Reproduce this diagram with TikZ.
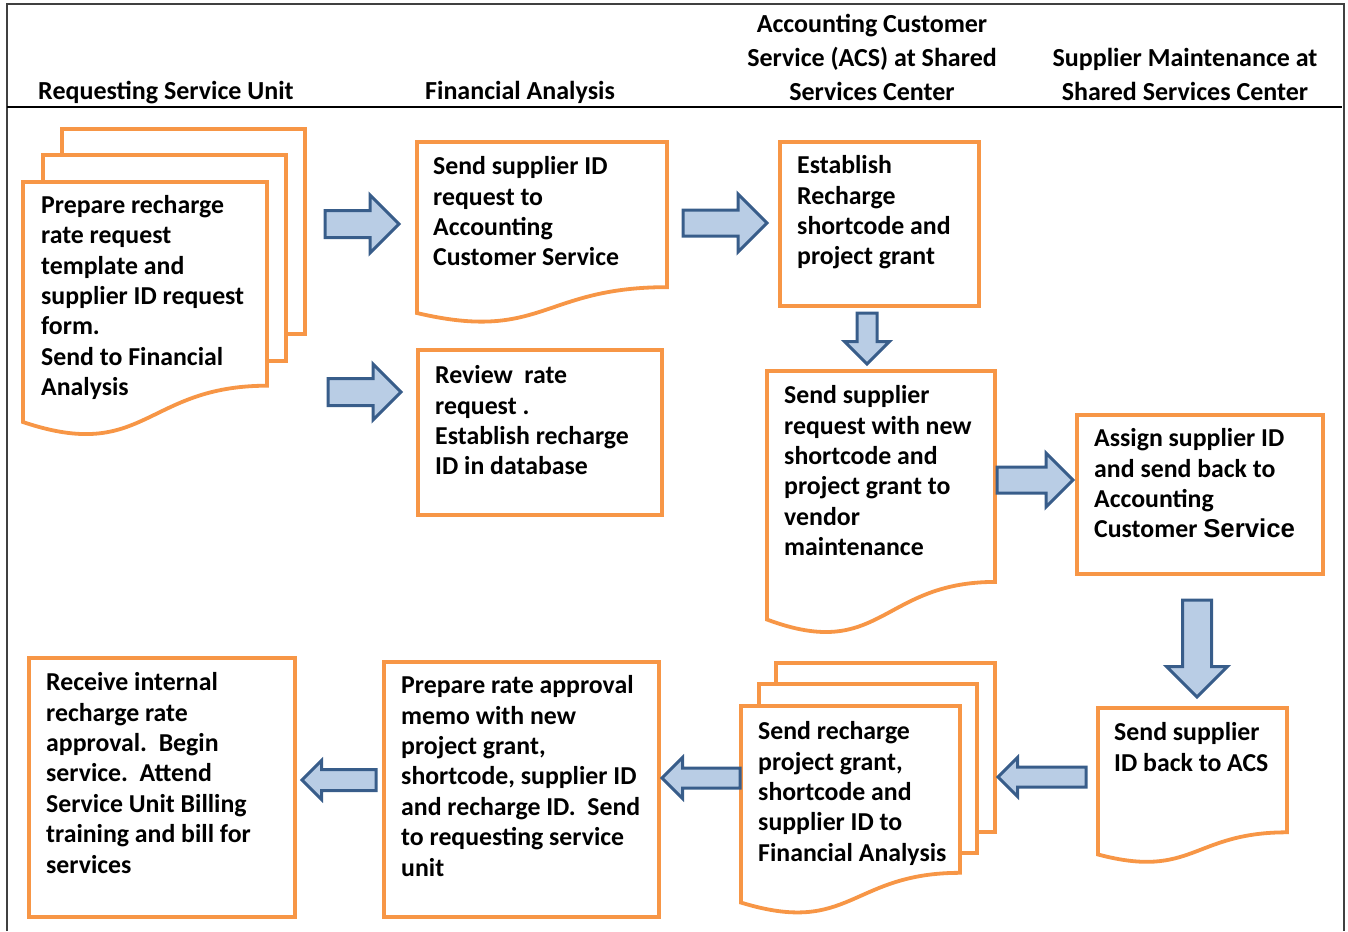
\documentclass[tikz,border=0pt]{standalone}
\usepackage{fontspec}
\setmainfont{Carlito}
\newfontfamily\arialfont{Liberation Sans}
\definecolor{boxorange}{HTML}{F79646}
\definecolor{arrowfill}{HTML}{B9CDE5}
\definecolor{arrowedge}{HTML}{385D8A}
\newcommand{\boxfont}{\fontsize{25.8}{30.4}\selectfont\bfseries}
\newcommand{\headfont}{\fontsize{26}{34}\selectfont\bfseries}
% document page: left, top, right, height
\newcommand{\docpage}[4]{%
  \draw[box] (#1,#2) -- (#3,#2) -- (#3,{#2+0.802*#4})
    .. controls ({(#1+#3)/2},{#2+0.802*#4}) and ({(#1+#3)/2},{#2+1.107*#4}) .. (#1,{#2+0.945*#4}) -- cycle;}
% page behind: left, top, right, cut, right of page in front, top of page in front
\newcommand{\backpage}[6]{%
  \draw[box] (#1,#6) -- (#1,#2) -- (#3,#2) -- (#3,#4) -- (#5,#4);}
% block arrow: tail x, tail y, angle, length, shaft, head
\newcommand{\blockarrow}[6]{%
  \filldraw[flowarrow,shift={(#1,#2)},rotate=#3] (0,{-#5/2}) -- ({#4-#6/2},{-#5/2}) -- ({#4-#6/2},{-#6/2})
    -- (#4,0) -- ({#4-#6/2},{#6/2}) -- ({#4-#6/2},{#5/2}) -- (0,{#5/2}) -- cycle;}
\tikzset{
  box/.style={draw=boxorange,line width=3.8pt,fill=white},
  flowarrow/.style={fill=arrowfill,draw=arrowedge,line width=3pt},
  txt/.style={anchor=north west,align=left,inner sep=0pt,font=\boxfont,yshift=21.28pt},
  head/.style={align=center,inner sep=0pt,font=\headfont}
}
\begin{document}
\begin{tikzpicture}[x=1pt,y=-1pt]
\useasboundingbox (0,0) rectangle (1348,931);

\draw[black!75,line width=2pt] (7,931) -- (7,4) -- (1344,4) -- (1344,931);
\draw[black,line width=2.5pt] (7,107) -- (1342,107);

\node[head,anchor=base] (hdrunit) at (166,100) {Requesting Service Unit};
\node[head,anchor=base] (hdrfin) at (520,100) {Financial Analysis};
\node[head,anchor=north] (hdracs) at (872,8.2) {\strut Accounting Customer\\Service (ACS) at Shared\\Services Center};
\node[head,anchor=north] (hdrsup) at (1185,42.2) {\strut Supplier Maintenance at\\Shared Services Center};

\backpage{62}{129}{305}{334}{286}{155}
\backpage{43}{155}{286}{361}{267}{182}
\docpage{23}{182}{267}{254}
\docpage{417}{142}{667}{181}
\draw[box] (418,350) rectangle (662,515);
\draw[box] (780,142) rectangle (979,306);
\docpage{767}{371}{995}{263}
\draw[box] (1077,415) rectangle (1323,574);
\docpage{1098}{708}{1287}{155}
\backpage{776}{663}{995}{832}{977}{684}
\backpage{759}{684}{977}{853}{960}{706}
\docpage{741}{706}{960}{208}
\draw[box] (384,662) rectangle (659,917);
\draw[box] (29,658) rectangle (295,917);

\blockarrow{325}{224}{0}{74}{27}{58}
\blockarrow{328}{392}{0}{73}{27}{56}
\blockarrow{683}{223}{0}{84}{26}{58}
\blockarrow{867}{313}{-90}{51}{20}{45}
\blockarrow{997}{480}{0}{76}{26}{54}
\blockarrow{1197}{600}{-90}{97}{29}{61}
\blockarrow{1086}{777}{180}{88}{20}{39}
\blockarrow{740}{778}{180}{78}{20}{41}
\blockarrow{376}{780}{180}{74}{21}{39}

\node[txt] (prep) at (41,213) {\strut Prepare recharge\\rate request\\template and\\supplier ID request\\form.\\Send to Financial\\Analysis};
\node[txt] (sendid) at (433,174.5) {\strut Send supplier ID\\request to\\Accounting\\Customer Service};
\node[txt] (review) at (435,383.5) {\strut Review\ \ rate\\request .\\Establish recharge\\ID in database};
\node[txt] (establish) at (797,173.5) {\strut Establish\\Recharge\\shortcode and\\project grant};
\node[txt] (sendreq) at (784,403.5) {\strut Send supplier\\request with new\\shortcode and\\project grant to\\vendor\\maintenance};
\node[txt] (assign) at (1094,446.5) {\strut Assign supplier ID\\and send back to\\Accounting\\Customer {\arialfont Service}};
\node[txt] (sendback) at (1114,740.5) {\strut Send supplier\\ID back to ACS};
\node[txt] (sendrech) at (758,739.5) {\strut Send recharge\\project grant,\\shortcode and\\supplier ID to\\Financial Analysis};
\node[txt] (approval) at (401,693.5) {\strut Prepare rate approval\\memo with new\\project grant,\\shortcode, supplier ID\\and recharge ID.\ \ Send\\to requesting service\\unit};
\node[txt] (receive) at (46,690.5) {\strut Receive internal\\recharge rate\\approval.\ \ Begin\\service.\ \ Attend\\Service Unit Billing\\training and bill for\\services};
\end{tikzpicture}
\end{document}
